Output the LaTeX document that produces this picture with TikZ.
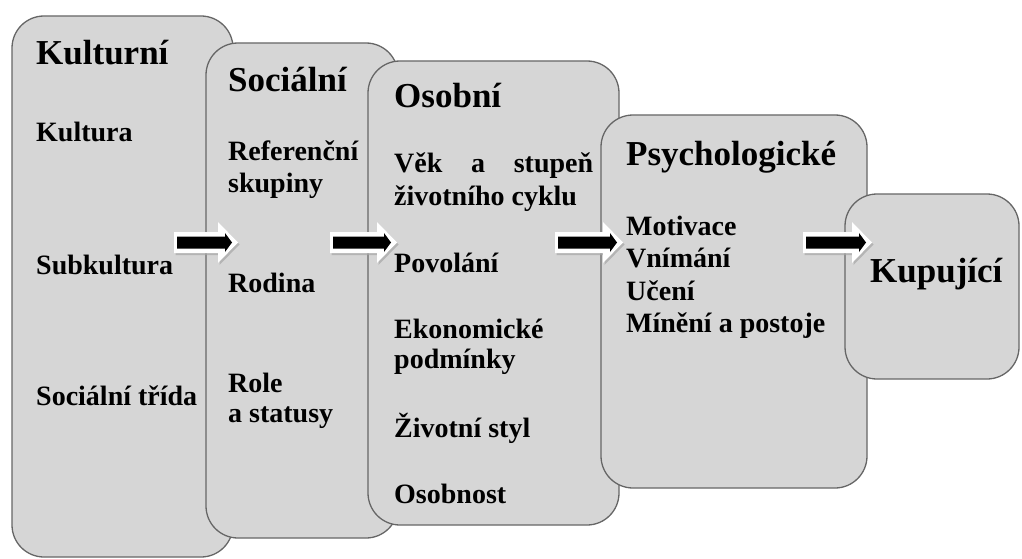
\documentclass[tikz,border=0pt]{standalone}
\usepackage{fontspec}
\setmainfont{Liberation Serif}
\begin{document}
\begin{tikzpicture}[x=1pt,y=-1pt,
  panel/.style={draw=black!60, line width=1.3pt, fill=black!16,
    rounded corners=32pt, inner sep=0pt, outer sep=0pt},
  head/.style={anchor=base west, inner sep=0pt, font=\fontsize{35}{40}\selectfont\bfseries},
  item/.style={anchor=base west, inner sep=0pt, font=\fontsize{28}{31}\selectfont\bfseries}]
\useasboundingbox (0,0) rectangle (1022,559);

% block arrow: #1,#2 = left end, #3 = length
\newcommand{\blockarrow}[3]{%
  \begin{scope}[shift={(#1,#2)}]
    \fill[black!35, opacity=0.7, shift={(1.5,2)}] (0,-10.5) -- ({#3-20},-10.5) -- ({#3-20},-20.5) -- (#3,0)
      -- ({#3-20},20.5) -- ({#3-20},10.5) -- (0,10.5) -- cycle;
    \fill[white] (0,-10.5) -- ({#3-20},-10.5) -- ({#3-20},-20.5) -- (#3,0)
      -- ({#3-20},20.5) -- ({#3-20},10.5) -- (0,10.5) -- cycle;
    \fill[black] (3,-6) -- ({#3-13},-6) -- ({#3-13},-9.5) -- ({#3-6},0)
      -- ({#3-13},9.5) -- ({#3-13},6) -- (3,6) -- cycle;
  \end{scope}}

% Kulturní
\node[panel, minimum width=221pt, minimum height=541pt] (kult) at (122.5,286.5) {};
\node[head] (kultT) at (36,65) {Kulturní};
\node[item] (kult1) at (36,142) {Kultura};
\node[item] (kult2) at (36,274) {Subkultura};
\node[item] (kult3) at (36,405) {Sociální třída};

% Sociální
\node[panel, minimum width=192pt, minimum height=495pt] (soc) at (302,290.5) {};
\node[head] (socT) at (228,92) {Sociální};
\node[item] (soc1a) at (228,160) {Referenční};
\node[item] (soc1b) at (228,192) {skupiny};
\node[item] (soc2) at (228,292) {Rodina};
\node[item] (soc3a) at (228,392) {Role};
\node[item] (soc3b) at (228,422) {a statusy};

% Osobní
\node[panel, minimum width=251pt, minimum height=464pt] (oso) at (493.5,293) {};
\node[head] (osoT) at (394,108) {Osobní};
\node[item] (oso1a) at (394,172) {\makebox[199pt][s]{Věk a stupeň}};
\node[item] (oso1b) at (394,205) {životního cyklu};
\node[item] (oso2) at (394,272) {Povolání};
\node[item] (oso3a) at (394,338) {Ekonomické};
\node[item] (oso3b) at (394,368) {podmínky};
\node[item] (oso4) at (394,437) {Životní styl};
\node[item] (oso5) at (394,503) {Osobnost};

% Psychologické
\node[panel, minimum width=266pt, minimum height=373pt] (psy) at (734,301.5) {};
\node[head] (psyT) at (626,165) {Psychologické};
\node[item] (psy1) at (626,235) {Motivace};
\node[item] (psy2) at (626,267) {Vnímání};
\node[item] (psy3) at (626,300) {Učení};
\node[item] (psy4) at (626,332) {Mínění a postoje};

% Kupující
\node[panel, minimum width=174pt, minimum height=185pt] (kup) at (932,286.5) {};
\node[head] (kupT) at (870,282) {Kupující};

% arrows between the stages
\blockarrow{174}{242.5}{64}
\blockarrow{330}{242.5}{67}
\blockarrow{555}{242.5}{68}
\blockarrow{803}{242.5}{69}
\end{tikzpicture}
\end{document}
